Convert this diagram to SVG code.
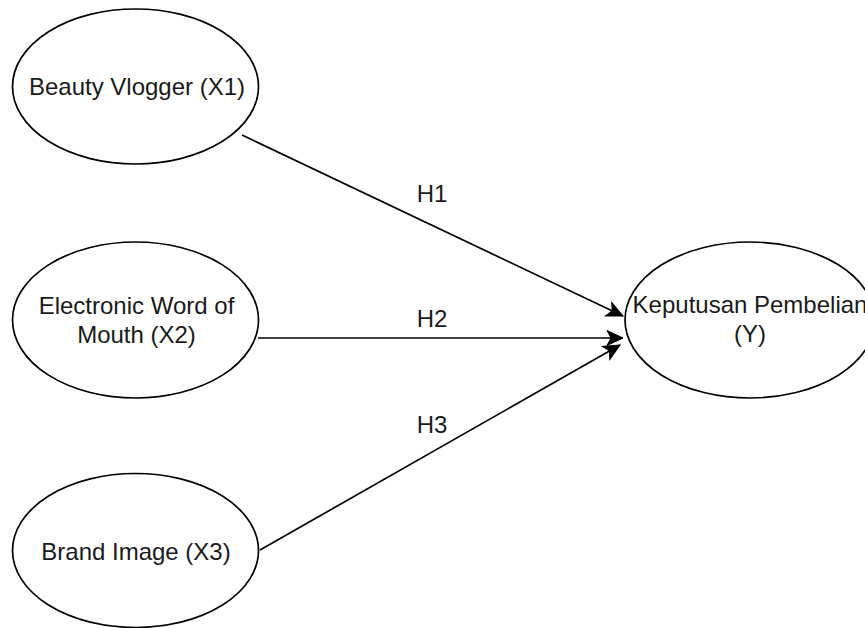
<svg xmlns="http://www.w3.org/2000/svg" width="865" height="628" viewBox="0 0 865 628">
<style>
.node{fill:#ffffff;stroke:#000000;stroke-width:1.7}
.lbl{font-family:"Liberation Sans",Arial,sans-serif;font-size:24px;fill:#1a1a1a;text-anchor:middle}
.edge{fill:none;stroke:#000000;stroke-width:1.7}
</style>
<defs>
<marker id="arrow" markerUnits="userSpaceOnUse" markerWidth="20" markerHeight="20" viewBox="-18 -10 20 20" refX="0" refY="0" orient="auto">
<path d="M0,0 L-16,-7.5 L-12,0 L-16,7.5 Z" fill="#000000" stroke="#000000" stroke-width="1"/>
</marker>
</defs>
<rect width="865" height="628" fill="#ffffff"/>
<g id="connectors">
<line class="edge" x1="242" y1="135" x2="623" y2="316" marker-end="url(#arrow)"/>
<line class="edge" x1="258" y1="338" x2="623" y2="338" marker-end="url(#arrow)"/>
<line class="edge" x1="260" y1="550" x2="620" y2="345" marker-end="url(#arrow)"/>
<text class="lbl" x="432" y="202">H1</text>
<text class="lbl" x="432" y="327">H2</text>
<text class="lbl" x="432" y="433">H3</text>
</g>
<g id="x1">
<ellipse class="node" cx="135.5" cy="86.5" rx="123" ry="77.5"/>
<text class="lbl" x="137" y="95">Beauty Vlogger (X1)</text>
</g>
<g id="x2">
<ellipse class="node" cx="135.5" cy="320" rx="123" ry="78"/>
<text class="lbl" x="136.5" y="314">Electronic Word of</text>
<text class="lbl" x="136.5" y="343">Mouth (X2)</text>
</g>
<g id="x3">
<ellipse class="node" cx="135.5" cy="550.5" rx="123" ry="77"/>
<text class="lbl" x="136" y="560">Brand Image (X3)</text>
</g>
<g id="y">
<ellipse class="node" cx="750" cy="320" rx="125" ry="78"/>
<text class="lbl" x="750" y="313">Keputusan Pembelian</text>
<text class="lbl" x="750" y="342">(Y)</text>
</g>
</svg>
